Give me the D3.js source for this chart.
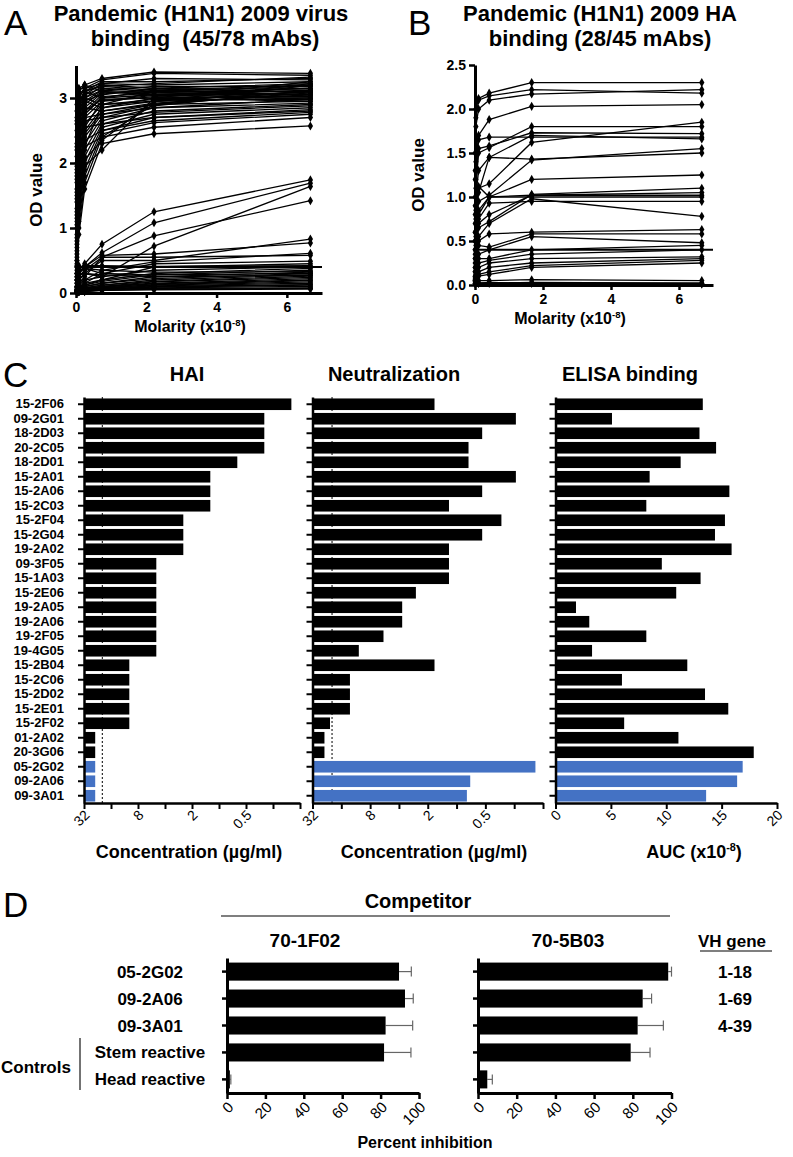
<!DOCTYPE html>
<html><head><meta charset="utf-8">
<script src="https://cdn.jsdelivr.net/npm/d3@7"></script>
<style>
body{margin:0;background:#fff}
text{font-family:"Liberation Sans",Arial,sans-serif;white-space:pre}
</style>
</head><body>
<svg id="c" width="793" height="1157"></svg>
<script>
// ---------------- DATA ----------------
// Panel A: virus binding, molarity (x10^-8) and OD values per mAb
const molarityA = [0.027, 0.082, 0.247, 0.74, 2.22, 6.67];
const curvesA = [
 [2.8,3.1,3.2,3.3,3.4,3.38],[2.6,3.0,3.15,3.28,3.38,3.35],[2.5,2.9,3.1,3.25,3.25,3.3],
 [2.3,2.9,3.05,3.22,3.2,3.25],[2.2,2.8,3.1,3.2,3.15,3.22],[2.0,2.7,3.0,3.18,3.12,3.2],
 [1.9,2.75,3.05,3.15,3.1,3.18],[1.8,2.6,2.95,3.12,3.08,3.15],[1.7,2.5,2.9,3.1,3.05,3.12],
 [1.6,2.45,2.85,3.08,3.1,3.1],[1.5,2.4,2.8,3.05,3.15,3.08],[1.4,2.3,2.75,3.0,3.05,3.05],
 [1.3,2.2,2.8,2.98,3.0,3.03],[1.2,2.1,2.7,2.95,3.02,3.0],[1.1,2.0,2.6,2.9,2.98,2.98],
 [1.0,1.9,2.5,2.85,2.95,3.1],[0.9,1.8,2.45,2.8,2.92,3.05],[0.8,1.7,2.4,2.75,2.9,2.95],
 [0.7,1.6,2.3,2.7,2.88,3.12],[0.6,1.5,2.2,2.65,2.85,2.92],[0.55,1.4,2.1,2.6,2.8,2.9],
 [0.5,1.3,2.0,2.55,2.75,2.85],[0.45,1.2,1.9,2.5,2.7,2.8],[0.4,1.1,1.8,2.45,2.62,2.75],
 [0.35,1.0,1.7,2.4,2.55,2.7],[0.3,0.9,1.6,2.3,2.45,2.57],[2.9,3.15,3.2,3.1,3.05,3.15],
 [2.7,3.05,3.1,3.0,3.12,3.05],[2.4,3.0,3.0,2.9,2.95,3.0],[2.1,2.85,2.95,2.85,3.0,2.95],
 [1.95,2.65,2.85,2.8,2.9,3.08],[1.75,2.55,2.7,2.75,2.85,2.98],[1.45,2.35,2.65,2.7,2.78,2.88],
 [1.25,2.15,2.55,2.6,2.7,2.82],[1.05,1.95,2.35,2.5,2.65,2.78],[0.85,1.75,2.25,2.4,2.9,3.2],
 [0.65,1.55,2.05,2.35,2.95,3.22],[0.5,1.35,1.95,2.2,3.0,3.25],[2.65,3.05,3.15,3.22,3.3,3.28],
 [2.25,2.95,3.1,3.18,3.22,3.32],[1.85,2.7,3.0,3.12,3.18,3.18],[1.55,2.6,2.95,3.06,3.14,3.14],
 [1.15,2.25,2.75,3.02,3.08,3.06],[0.75,1.85,2.55,2.96,3.04,3.02],[0.42,1.45,2.25,2.9,3.1,3.1],
 [0.3,0.35,0.45,0.75,1.25,1.74],[0.25,0.3,0.4,0.62,1.08,1.69],[0.2,0.25,0.35,0.55,0.88,1.42],
 [0.15,0.2,0.3,0.25,0.72,1.64],[0.2,0.3,0.4,0.58,0.6,0.77],[0.1,0.15,0.25,0.55,0.55,0.58],
 [0.15,0.2,0.3,0.5,0.5,0.83],[0.1,0.12,0.2,0.35,0.48,0.61],[0.08,0.1,0.15,0.3,0.45,0.49],
 [0.05,0.1,0.12,0.2,0.4,0.45],[0.2,0.3,0.42,0.42,0.41,0.42],[0.1,0.15,0.2,0.25,0.35,0.4],
 [0.08,0.1,0.15,0.2,0.3,0.38],[0.05,0.08,0.12,0.18,0.28,0.35],[0.05,0.07,0.1,0.15,0.25,0.32],
 [0.04,0.06,0.1,0.15,0.22,0.3],[0.04,0.05,0.08,0.12,0.2,0.28],[0.03,0.05,0.08,0.12,0.18,0.26],
 [0.03,0.05,0.07,0.1,0.17,0.24],[0.03,0.04,0.06,0.1,0.15,0.22],[0.03,0.04,0.06,0.09,0.14,0.2],
 [0.02,0.04,0.05,0.08,0.13,0.19],[0.02,0.03,0.05,0.08,0.12,0.17],[0.02,0.03,0.05,0.07,0.11,0.15],
 [0.02,0.03,0.04,0.06,0.1,0.13],[0.02,0.03,0.04,0.06,0.09,0.12],[0.02,0.02,0.03,0.05,0.08,0.1],
 [0.02,0.02,0.03,0.05,0.07,0.08],[0.01,0.02,0.03,0.04,0.06,0.07],[0.01,0.02,0.02,0.04,0.05,0.06],
 [0.3,0.35,0.38,0.3,0.28,0.3],[0.25,0.28,0.3,0.28,0.25,0.27],[0.4,0.42,0.38,0.35,0.32,0.33]
];
const cutoffA = 0.4;
const yTicksA = [0, 1, 2, 3];
const xTicksA = [0, 2, 4, 6];

// Panel B: HA binding
const molarityB = [0.0065, 0.026, 0.104, 0.417, 1.667, 6.67];
const curvesB = [
 [1.5,2.0,2.12,2.18,2.3,2.3],[1.3,1.9,2.1,2.15,2.22,2.18],[1.2,1.8,2.0,2.1,2.17,2.22],
 [1.0,1.4,1.7,1.88,2.03,2.05],[0.9,1.3,1.65,1.68,1.68,1.68],[0.8,1.2,1.55,1.58,1.73,1.72],
 [0.7,1.1,1.5,1.56,1.8,1.8],[0.6,1.0,1.3,1.45,1.7,1.66],[0.5,0.9,1.1,1.15,1.62,1.85],
 [0.5,0.85,1.05,1.45,1.43,1.5],[0.4,0.75,0.95,1.02,1.42,1.55],[0.4,0.7,0.85,1.0,1.2,1.25],
 [0.35,0.6,0.8,1.0,1.0,1.0],[0.3,0.55,0.75,0.93,0.95,0.95],[0.3,0.5,0.7,0.8,1.02,1.05],
 [0.25,0.45,0.65,0.72,1.03,1.1],[0.2,0.4,0.55,0.7,0.98,0.78],[0.2,0.35,0.5,0.58,0.6,0.63],
 [0.15,0.3,0.45,0.43,0.58,0.58],[0.15,0.25,0.35,0.4,0.55,0.48],[0.1,0.2,0.3,0.3,0.4,0.45],
 [0.1,0.15,0.25,0.28,0.35,0.4],[0.08,0.12,0.2,0.25,0.3,0.32],[0.06,0.1,0.15,0.2,0.25,0.3],
 [0.05,0.08,0.12,0.15,0.22,0.28],[0.04,0.06,0.1,0.12,0.2,0.25],[0.6,0.9,1.12,1.0,1.02,1.02],
 [0.05,0.06,0.05,0.05,0.06,0.05],[0.02,0.02,0.02,0.02,0.03,0.02],[0.02,0.03,0.02,0.03,0.02,0.02],
 [0.01,0.02,0.02,0.02,0.02,0.01]
];
const cutoffB = 0.4;
const yTicksB = [0, 0.5, 1, 1.5, 2, 2.5];
const xTicksB = [0, 2, 4, 6];

// Panel C
const mAbs = ["15-2F06","09-2G01","18-2D03","20-2C05","18-2D01","15-2A01","15-2A06","15-2C03",
 "15-2F04","15-2G04","19-2A02","09-3F05","15-1A03","15-2E06","19-2A05","19-2A06","19-2F05",
 "19-4G05","15-2B04","15-2C06","15-2D02","15-2E01","15-2F02","01-2A02","20-3G06","05-2G02",
 "09-2A06","09-3A01"];
const highlighted = ["05-2G02","09-2A06","09-3A01"];
const haiConc = [0.156,0.3125,0.3125,0.3125,0.625,1.25,1.25,1.25,2.5,2.5,2.5,5,5,5,5,5,5,5,
 10,10,10,10,10,24,24,24,24,24];
const neutConc = [1.7,0.24,0.54,0.75,0.75,0.24,0.54,1.2,0.34,0.54,1.2,1.2,1.2,2.66,3.7,3.7,5.8,
 10.5,1.7,13,13,13,21,24,24,0.15,0.72,0.78];
const elisaAUC = [13.3,5.1,13.0,14.5,11.3,8.5,15.7,8.2,15.3,14.4,15.9,9.6,13.1,10.9,1.85,3.05,
 8.2,3.3,11.9,6.0,13.5,15.6,6.2,11.1,17.9,16.9,16.4,13.6];
const startConc = 20;
const concTicks = [32,16,8,4,2,1,0.5,0.25,0.125];
const concTickLabels = ["32","","8","","2","","0.5","",""];
const aucTicks = [0,5,10,15,20];

// Panel D
const dRows = ["05-2G02","09-2A06","09-3A01","Stem reactive","Head reactive"];
const inh1F02 = [89.6, 92.7, 82.6, 81.8, 1.5];
const err1F02 = [6.4, 4.3, 14.1, 14.0, 0.5];
const inh5B03 = [98.3, 85.1, 82.5, 78.9, 4.8];
const err5B03 = [1.7, 4.6, 13.3, 10.0, 2.6];
const vhGenes = ["1-18","1-69","4-39"];
const pctTicks = [0,20,40,60,80,100];

// ---------------- DRAW ----------------
const svg = d3.select("#c");
const BLUE = "#4472c4";

function text(x, y, s, size, opts = {}) {
  const t = svg.append("text").attr("x", x).attr("y", y).attr("font-size", size)
    .attr("font-weight", opts.weight || "bold").attr("text-anchor", opts.anchor || "middle")
    .attr("fill", "#000");
  if (opts.rotate) t.attr("transform", `rotate(${opts.rotate},${x},${y})`);
  t.text(s);
  return t;
}
function supText(x, y, base, sup, tail, size) {
  const t = svg.append("text").attr("x", x).attr("y", y).attr("font-size", size)
    .attr("font-weight", "bold").attr("text-anchor", "middle");
  t.append("tspan").text(base);
  t.append("tspan").attr("dy", -size * 0.4).attr("font-size", size * 0.6).text(sup);
  t.append("tspan").attr("dy", size * 0.4).text(tail);
}

// panel letters
[["A",4,35],["B",408,35],["C",3,387],["D",3,917]].forEach(([t,x,y]) =>
  text(x, y, t, 35, {weight: "normal", anchor: "start"}));

// ---- line panels A and B ----
function linePanel(x, y, mol, curves, cutoff, yTicks, yFmt, xTicks) {
  const g = svg.append("g");
  const line = d3.line().x((d, i) => x(mol[i])).y(d => y(d));
  g.selectAll("path.curve").data(curves).join("path").attr("class", "curve")
    .attr("d", line).attr("fill", "none").attr("stroke", "#000").attr("stroke-width", 1.3);
  curves.forEach(c => {
    g.append("g").selectAll("path").data(c).join("path")
      .attr("transform", (d, i) => `translate(${x(mol[i])},${y(d)})`)
      .attr("d", d3.symbol(d3.symbolDiamond, 24)).attr("fill", "#000");
  });
  g.append("line").attr("x1", x(0)).attr("x2", x(x.domain()[1]))
    .attr("y1", y(cutoff)).attr("y2", y(cutoff)).attr("stroke", "#000").attr("stroke-width", 2);
  const ya = g.append("g").attr("transform", `translate(${x(0)},0)`)
    .call(d3.axisLeft(y).tickValues(yTicks).tickFormat(yFmt).tickSize(6).tickSizeOuter(0).tickPadding(3));
  const xa = g.append("g").attr("transform", `translate(0,${y(0)})`)
    .call(d3.axisBottom(x).tickValues(xTicks).tickFormat(d3.format("d")).tickSize(5).tickSizeOuter(0).tickPadding(4));
  [ya, xa].forEach(a => {
    a.select(".domain").attr("stroke-width", 3);
    a.selectAll(".tick line").attr("stroke-width", 2.5);
    a.selectAll("text").attr("font-size", 14).attr("font-weight", "bold")
      .attr("font-family", "Liberation Sans, Arial, sans-serif");
  });
}

const xA = d3.scaleLinear([0, 7], [76, 322]);
const yA = d3.scaleLinear([0, 3.5], [293, 65.5]);
linePanel(xA, yA, molarityA, curvesA, cutoffA, yTicksA, d3.format("d"), xTicksA);
text(201, 21, "Pandemic (H1N1) 2009 virus", 22);
text(205, 46, "binding  (45/78 mAbs)", 22);
text(42, 190, "OD value", 17, {rotate: -90});
supText(190, 332, "Molarity (x10", "-8", ")", 16);

const xB = d3.scaleLinear([0, 7], [475, 713]);
const yB = d3.scaleLinear([0, 2.5], [285, 65]);
linePanel(xB, yB, molarityB, curvesB, cutoffB, yTicksB, d3.format(".1f"), xTicksB);
text(600, 21, "Pandemic (H1N1) 2009 HA", 22);
text(600, 46, "binding (28/45 mAbs)", 22);
text(424, 175, "OD value", 17, {rotate: -90});
supText(570, 324, "Molarity (x10", "-8", ")", 16);

// ---- Panel C ----
const yC = d3.scaleBand(mAbs, [397, 803]).paddingInner(0.2).paddingOuter(0.1);
const xHAI = d3.scaleLog().base(2).domain([32, 0.125]).range([84, 300]);
const xNeut = d3.scaleLog().base(2).domain([32, 0.125]).range([312.5, 543]);
const xEL = d3.scaleLinear([0, 20], [555.5, 777]);

function barPanel(x, vals, showLabels, ticks, tickLabels, dotted) {
  const g = svg.append("g");
  const x0 = x.range()[0];
  if (dotted) {
    g.append("line").attr("x1", x(dotted)).attr("x2", x(dotted)).attr("y1", 397).attr("y2", 803)
      .attr("stroke", "#000").attr("stroke-width", 1).attr("stroke-dasharray", "2,2");
  }
  g.selectAll("rect").data(mAbs).join("rect")
    .attr("x", x0).attr("y", d => yC(d)).attr("height", yC.bandwidth())
    .attr("width", (d, i) => Math.max(0, x(vals[i]) - x0))
    .attr("fill", d => highlighted.includes(d) ? BLUE : "#000");
  const ya = g.append("g").attr("transform", `translate(${x0},0)`)
    .call(d3.axisLeft(yC).tickSize(6).tickSizeOuter(0).tickPadding(14));
  ya.select(".domain").attr("stroke-width", 2.5);
  ya.selectAll(".tick line").attr("stroke-width", 2);
  if (showLabels) {
    ya.selectAll("text").attr("font-size", 13).attr("font-weight", "bold")
      .attr("font-family", "Liberation Sans, Arial, sans-serif");
  } else ya.selectAll("text").remove();
  const xa = g.append("g").attr("transform", `translate(0,803)`)
    .call(d3.axisBottom(x).tickValues(ticks).tickFormat((d, i) => tickLabels[i]).tickSize(6).tickSizeOuter(0));
  xa.select(".domain").attr("stroke-width", 2.5);
  xa.selectAll(".tick line").attr("stroke-width", 2);
  xa.selectAll("text").attr("font-size", 14).attr("font-family", "Liberation Sans, Arial, sans-serif")
    .attr("text-anchor", "end").attr("dy", 0).attr("y", 0)
    .attr("transform", "translate(6,13) rotate(-45)");
}
barPanel(xHAI, haiConc, true, concTicks, concTickLabels, startConc);
barPanel(xNeut, neutConc, false, concTicks, concTickLabels, startConc);
barPanel(xEL, elisaAUC, false, aucTicks, aucTicks.map(String), null);

text(187, 381, "HAI", 20);
text(394, 381, "Neutralization", 20);
text(630, 381, "ELISA binding", 20);
text(189, 858, "Concentration (µg/ml)", 18);
text(434, 858, "Concentration (µg/ml)", 18);
supText(694, 858, "AUC (x10", "-8", ")", 18);

// ---- Panel D ----
const yD = d3.scaleBand(dRows, [958, 1093]).paddingInner(0.33).paddingOuter(0.17);
const xD1 = d3.scaleLinear([0, 100], [227, 419]);
const xD2 = d3.scaleLinear([0, 100], [478, 671.5]);

function inhPanel(x, vals, errs) {
  const g = svg.append("g");
  const x0 = x(0);
  dRows.forEach((r, i) => {
    const cy = yD(r) + yD.bandwidth() / 2;
    const xe = x(vals[i] + errs[i]);
    g.append("line").attr("x1", x(vals[i])).attr("x2", xe).attr("y1", cy).attr("y2", cy)
      .attr("stroke", "#666").attr("stroke-width", 1.2);
    g.append("line").attr("x1", xe).attr("x2", xe).attr("y1", cy - 5).attr("y2", cy + 5)
      .attr("stroke", "#666").attr("stroke-width", 1.2);
  });
  g.selectAll("rect").data(dRows).join("rect")
    .attr("x", x0).attr("y", d => yD(d)).attr("height", yD.bandwidth())
    .attr("width", (d, i) => x(vals[i]) - x0).attr("fill", "#000");
  const ya = g.append("g").attr("transform", `translate(${x0},0)`)
    .call(d3.axisLeft(yD).tickSize(5).tickSizeOuter(0));
  ya.select(".domain").attr("stroke-width", 3);
  ya.selectAll(".tick line").attr("stroke-width", 2.5);
  ya.selectAll("text").remove();
  const xa = g.append("g").attr("transform", `translate(0,1093)`)
    .call(d3.axisBottom(x).tickValues(pctTicks).tickSize(6).tickSizeOuter(0));
  xa.select(".domain").attr("stroke-width", 3);
  xa.selectAll(".tick line").attr("stroke-width", 2.5);
  xa.selectAll("text").attr("font-size", 15).attr("font-family", "Liberation Sans, Arial, sans-serif")
    .attr("text-anchor", "end").attr("dy", 0).attr("y", 0)
    .attr("transform", "translate(7,15) rotate(-45)");
}
inhPanel(xD1, inh1F02, err1F02);
inhPanel(xD2, inh5B03, err5B03);

text(418, 908, "Competitor", 20);
svg.append("line").attr("x1", 221).attr("x2", 670).attr("y1", 916).attr("y2", 916)
  .attr("stroke", "#000").attr("stroke-width", 1.2);
text(305, 947, "70-1F02", 19);
text(568, 947, "70-5B03", 19);
text(732, 947, "VH gene", 17);
svg.append("line").attr("x1", 700).attr("x2", 772).attr("y1", 951).attr("y2", 951)
  .attr("stroke", "#000").attr("stroke-width", 1.2);
dRows.forEach((r, i) => {
  text(150, yD(r) + yD.bandwidth() / 2 + 6, r, 17);
  if (i < vhGenes.length) text(735, yD(r) + yD.bandwidth() / 2 + 6, vhGenes[i], 17);
});
text(1, 1073, "Controls", 17, {anchor: "start"});
svg.append("line").attr("x1", 80).attr("x2", 80).attr("y1", 1038).attr("y2", 1090)
  .attr("stroke", "#444").attr("stroke-width", 1.5);
text(425, 1148, "Percent inhibition", 16);
</script>
</body></html>
